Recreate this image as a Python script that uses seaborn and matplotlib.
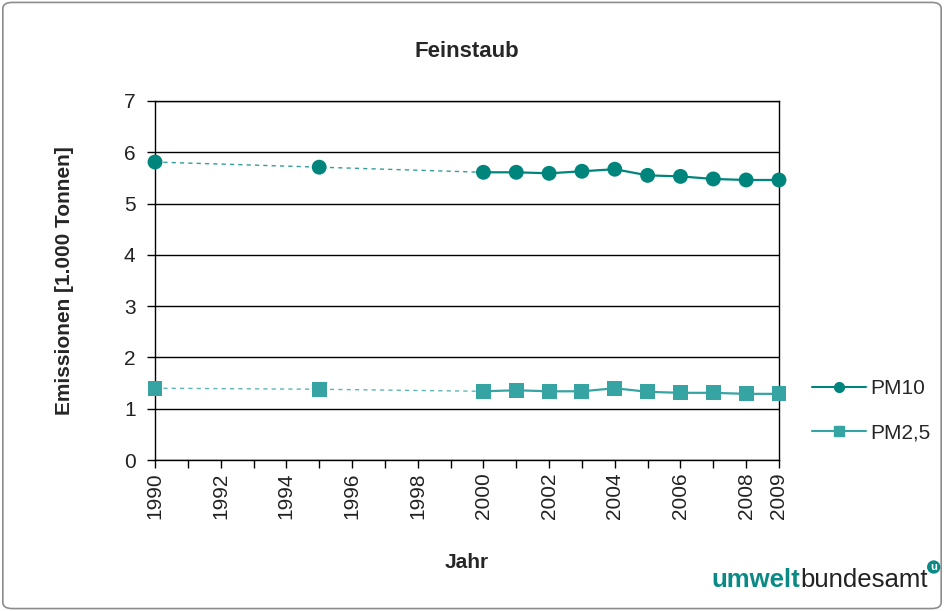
import matplotlib
matplotlib.use("Agg")
import matplotlib.pyplot as plt
from matplotlib.lines import Line2D
from matplotlib.patches import FancyBboxPatch
import seaborn as sns
import pandas as pd

# Data
years = [1990, 1995, 2000, 2001, 2002, 2003, 2004, 2005, 2006, 2007, 2008, 2009]
pm10 = [5.81, 5.71, 5.61, 5.61, 5.59, 5.63, 5.67, 5.55, 5.53, 5.48, 5.46, 5.46]
pm25 = [1.40, 1.38, 1.34, 1.36, 1.34, 1.34, 1.40, 1.33, 1.31, 1.31, 1.29, 1.29]
series_names = ["PM10", "PM2,5"]
tick_years = [1990, 1992, 1994, 1996, 1998, 2000, 2002, 2004, 2006, 2008, 2009]

c_pm10 = "#00857c"
c_pm25 = "#35a4a2"

df = pd.DataFrame({
    "Jahr": years * 2,
    "Wert": pm10 + pm25,
    "Reihe": [series_names[0]] * len(years) + [series_names[1]] * len(years),
})
# years 1990/1995 are joined by a dashed line, yearly data from 2000 on is solid
df_sparse = df[df["Jahr"] <= 2000]
df_yearly = df[df["Jahr"] >= 2000]

sns.set_style("white")
plt.rcParams["font.family"] = ["Liberation Sans", "DejaVu Sans"]

fig = plt.figure(figsize=(9.44, 6.11), dpi=100)
fig.patch.set_facecolor("white")
ax = fig.add_axes([0.1642, 0.2471, 0.6610, 0.5876])

palette = {series_names[0]: c_pm10, series_names[1]: c_pm25}
markers = {series_names[0]: "o", series_names[1]: "s"}

sns.lineplot(data=df_sparse, x="Jahr", y="Wert", hue="Reihe", palette=palette,
             linestyle=(0, (3, 3)), linewidth=1.0, alpha=0.8, legend=False, ax=ax)
sns.lineplot(data=df_yearly, x="Jahr", y="Wert", hue="Reihe", palette=palette,
             linewidth=1.6, legend=False, ax=ax)
sns.scatterplot(data=df, x="Jahr", y="Wert", hue="Reihe", style="Reihe",
                palette=palette, markers=markers, s=115, linewidth=0,
                legend=False, zorder=5, clip_on=False, ax=ax)

ax.set_xlim(1990, 2009)
ax.set_ylim(0, 7)
ax.set_yticks(range(0, 8))
ax.set_xticks(range(1990, 2010), minor=True)
ax.set_xticks(tick_years)
ax.set_xticklabels([str(y) for y in tick_years], rotation=90)
ax.yaxis.grid(True, color="black", linewidth=1.0)
ax.set_axisbelow(True)
for s in ax.spines.values():
    s.set_color("black")
    s.set_linewidth(1.0)
ax.tick_params(axis="both", which="both", direction="out", length=6,
               width=1.0, color="black", labelsize=15, labelcolor="#222222",
               bottom=True, left=True)
ax.tick_params(axis="x", pad=3)
ax.tick_params(axis="y", pad=8)

ax.set_xlabel("Jahr", fontsize=15, fontweight="bold", labelpad=24)
ax.set_ylabel("Emissionen [1.000 Tonnen]", fontsize=15, fontweight="bold", labelpad=36)
ax.set_title("Feinstaub", fontsize=16, fontweight="bold", pad=32)

handles = [
    Line2D([], [], color=c_pm10, marker="o", markersize=7, linewidth=1.5),
    Line2D([], [], color=c_pm25, marker="s", markersize=7, linewidth=1.5),
]
fig.legend(handles, series_names, loc="upper left", bbox_to_anchor=(0.84, 0.41),
           frameon=False, fontsize=15, handlelength=2.6, labelspacing=1.2,
           handletextpad=0.2)

# logo text
fig.canvas.draw()
t1 = fig.text(0.754, 0.04, "umwelt", fontsize=18.5, fontweight="bold", color="#0b8a85")
fig.canvas.draw()
bb = t1.get_window_extent()
x2 = bb.x1 / fig.bbox.width
t2 = fig.text(x2, 0.04, "bundesamt", fontsize=18.5, color="#222222")
fig.canvas.draw()
bb2 = t2.get_window_extent()
fig.text(bb2.x1 / fig.bbox.width + 0.006, 0.072, "u", fontsize=8, fontweight="bold",
         color="white", ha="center", va="center",
         bbox=dict(boxstyle="circle,pad=0.15", fc="#0b8a85", ec="none"))

# frame around the whole figure
fig.patches.append(FancyBboxPatch((0.003, 0.004), 0.994, 0.992,
                                  boxstyle="round,pad=0,rounding_size=0.01",
                                  transform=fig.transFigure, fill=False,
                                  edgecolor="#8c8c8c", linewidth=1.2))

fig.savefig("out.png", dpi=100)
